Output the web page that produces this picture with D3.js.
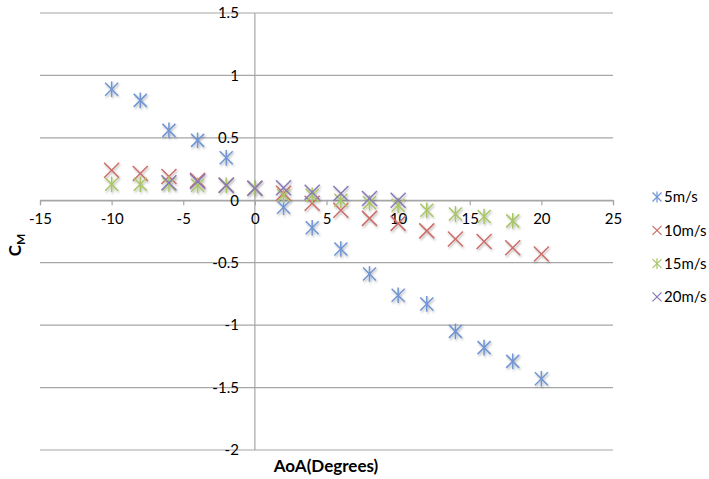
<!DOCTYPE html>
<html><head><meta charset="utf-8">
<script src="https://cdn.jsdelivr.net/npm/d3@7/dist/d3.min.js"></script>
<style>body{margin:0;background:#fff}svg{display:block}text{font-family:Lato,"Open Sans",sans-serif}</style>
</head><body><svg id="c" width="709" height="479"></svg>
<script>
const xTicks=[-15,-10,-5,0,5,10,15,20,25];
const yTicks=[1.5,1,0.5,0,-0.5,-1,-1.5,-2];
const seriesNames=["5m/s","10m/s","15m/s","20m/s"];
const aoa5=[-10,-8,-6,-4,-2,0,2,4,6,8,10,12,14,16,18,20];
const cm5=[0.89,0.80,0.56,0.48,0.34,0.096,-0.056,-0.22,-0.39,-0.59,-0.76,-0.83,-1.05,-1.18,-1.29,-1.43];
const aoa10=[-10,-8,-6,-4,-2,0,2,4,6,8,10,12,14,16,18,20];
const cm10=[0.24,0.215,0.19,0.16,0.12,0.096,0.056,-0.024,-0.08,-0.145,-0.185,-0.245,-0.31,-0.33,-0.38,-0.43];
const aoa15=[-10,-8,-6,-4,-2,0,2,4,6,8,10,12,14,16,18];
const cm15=[0.128,0.128,0.13,0.12,0.12,0.096,0.04,0.04,0.0,-0.02,-0.04,-0.08,-0.11,-0.13,-0.165];
const aoa20=[-6,-4,-2,0,2,4,6,8,10];
const cm20=[0.14,0.15,0.12,0.096,0.10,0.065,0.055,0.015,0.0];

const colors=["#6f95d2","#cc6d6a","#a8c566","#8878b8"];
const shapes=["asterisk","cross","asterisk","cross"];
const series=[[aoa5,cm5],[aoa10,cm10],[aoa15,cm15],[aoa20,cm20]];

const svg=d3.select("#c");
const x=d3.scaleLinear().domain([-15,25]).range([40,613]);
const y=d3.scaleLinear().domain([-2,1.5]).range([450,13]);
const fmt=d=>String(d);

const defs=svg.append("defs");
const f=defs.append("filter").attr("id","sh").attr("x","-50%").attr("y","-50%").attr("width","200%").attr("height","200%");
f.append("feDropShadow").attr("dx",1).attr("dy",1.5).attr("stdDeviation",1.2).attr("flood-color","#000").attr("flood-opacity",0.3);

// gridlines
svg.append("g").selectAll("line").data(yTicks).join("line")
 .attr("x1",x(-15)).attr("x2",x(25)).attr("y1",d=>y(d)).attr("y2",d=>y(d))
 .attr("stroke","#a6a6a6").attr("stroke-width",1.2);
// y axis line
svg.append("line").attr("x1",x(0)).attr("x2",x(0)).attr("y1",y(1.5)).attr("y2",y(-2)).attr("stroke","#a6a6a6").attr("stroke-width",1.2);
// x axis ticks
const xa=d3.axisBottom(x).tickValues(xTicks).tickSize(5).tickFormat(fmt);
const gx=svg.append("g").attr("transform",`translate(0,${y(0)})`).call(xa);
gx.select(".domain").attr("stroke","#a6a6a6").attr("stroke-width",1.2);
gx.selectAll(".tick line").attr("stroke","#a6a6a6").attr("stroke-width",1.2);
gx.selectAll("text").attr("font-size",15).attr("fill","#000").attr("dy","1.05em").attr("font-family","Lato,'Open Sans',sans-serif");
// y labels
svg.append("g").selectAll("text").data(yTicks).join("text")
 .attr("x",x(0)-16).attr("y",d=>y(d)).attr("dy","0.35em").attr("text-anchor","end")
 .attr("font-size",15).text(fmt);

function drawMarker(g,shape,color,s,w){
  g.append("line").attr("x1",-s).attr("y1",-s).attr("x2",s).attr("y2",s);
  g.append("line").attr("x1",-s).attr("y1",s).attr("x2",s).attr("y2",-s);
  if(shape==="asterisk") g.append("line").attr("x1",0).attr("y1",-s*1.2).attr("x2",0).attr("y2",s*1.2);
  g.selectAll("line").attr("stroke",color).attr("stroke-width",w);
}
const pg=svg.append("g").attr("filter","url(#sh)");
series.forEach((sr,i)=>{
  const pts=sr[0].map((a,j)=>[a,sr[1][j]]);
  pg.append("g").selectAll("g").data(pts).join("g")
   .attr("transform",d=>`translate(${x(d[0])},${y(d[1])})`)
   .each(function(){drawMarker(d3.select(this),shapes[i],colors[i],shapes[i]==="cross"?7.5:6.5,1.5);});
});
// axis titles
svg.append("text").attr("x",326).attr("y",472).attr("text-anchor","middle").attr("font-size",17).attr("font-weight","bold").text("AoA(Degrees)");
const yt=svg.append("text").attr("transform","translate(21,245) rotate(-90)").attr("text-anchor","middle").attr("font-size",17).attr("font-weight","bold");
yt.append("tspan").text("C");
yt.append("tspan").attr("font-size",12).attr("dy",4).text("M");
// legend
const lg=svg.append("g");
seriesNames.forEach((n,i)=>{
  const yy=197+i*33.3;
  const g=lg.append("g").attr("transform",`translate(657,${yy})`);
  drawMarker(g,shapes[i],colors[i],4.5,1.2);
  lg.append("text").attr("x",664).attr("y",yy).attr("dy","0.35em").attr("font-size",15).text(n);
});
</script></body></html>
